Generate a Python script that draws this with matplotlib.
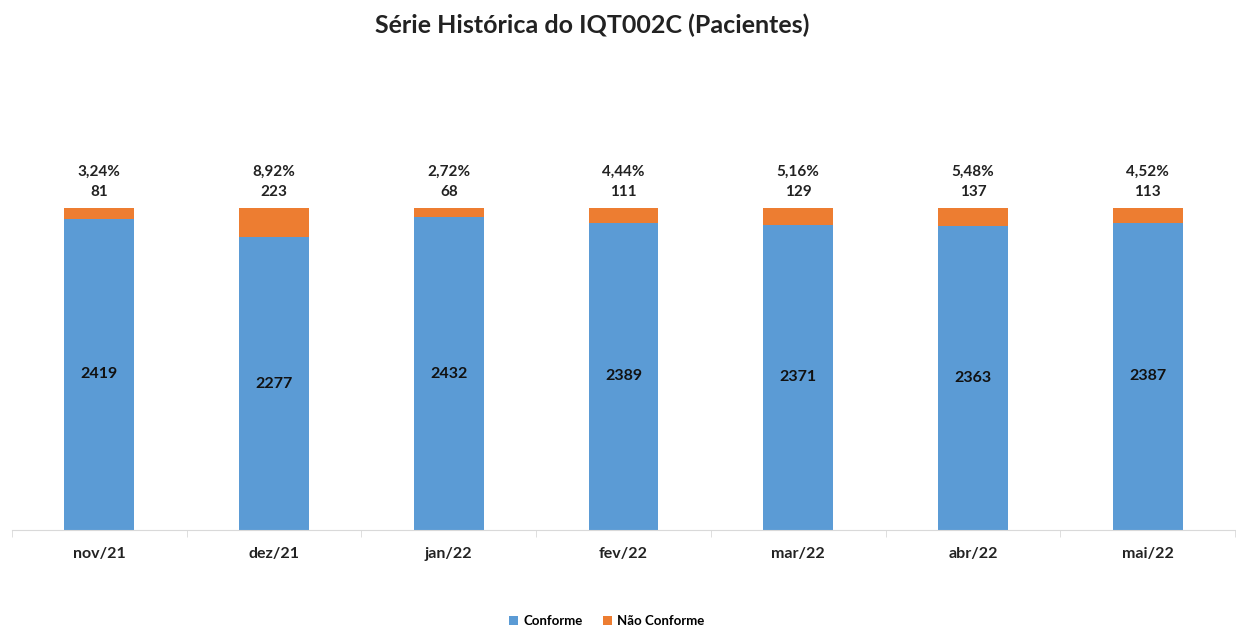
import matplotlib.pyplot as plt
import numpy as np

# data
months = ['nov/21', 'dez/21', 'jan/22', 'fev/22', 'mar/22', 'abr/22', 'mai/22']
conforme = [2419, 2277, 2432, 2389, 2371, 2363, 2387]
nao_conforme = [81, 223, 68, 111, 129, 137, 113]
pct_labels = ['3,24%', '8,92%', '2,72%', '4,44%', '5,16%', '5,48%', '4,52%']

blue = '#5B9BD5'
orange = '#ED7D31'

plt.rcParams['font.family'] = ['Lato', 'DejaVu Sans']

fig = plt.figure(figsize=(12.36, 6.31), dpi=100)
ax = fig.add_axes([12 / 1236, 1 - 530 / 631, 1223 / 1236, 386 / 631])

x = np.arange(len(months))
w = 0.4
ax.bar(x, conforme, width=w, color=blue, label='Conforme')
ax.bar(x, nao_conforme, width=w, bottom=conforme, color=orange, label='Não Conforme')

for i in range(len(months)):
    ax.text(x[i], conforme[i] / 2, str(conforme[i]), ha='center', va='center',
            fontsize=11.5, fontweight='bold', color='#111111')
    top = conforme[i] + nao_conforme[i]
    ax.text(x[i], top + 125, str(nao_conforme[i]), ha='center', va='center',
            fontsize=11, fontweight='bold', color='#222222')
    ax.text(x[i], top + 285, pct_labels[i], ha='center', va='center',
            fontsize=11, fontweight='bold', color='#222222')

ax.set_xlim(-0.5, len(months) - 0.5)
ax.set_ylim(0, 3000)

# axis styling
for s in ['top', 'right', 'left']:
    ax.spines[s].set_visible(False)
ax.spines['bottom'].set_color('#D9D9D9')
ax.set_yticks([])
ax.set_xticks(x)
ax.set_xticklabels(months, fontsize=11.5, fontweight='bold', color='#222222')
ax.tick_params(axis='x', length=0, pad=12)
ax.set_xticks(np.arange(-0.5, len(months), 1), minor=True)
ax.tick_params(axis='x', which='minor', length=5, color='#D9D9D9')

fig.text(0.479, 1 - 25 / 631, 'Série Histórica do IQT002C (Pacientes)', ha='center', va='center',
         fontsize=18, fontweight='bold', color='#222222')

fig.legend(loc='center', bbox_to_anchor=(0.491, 1 - 621 / 631), ncol=2, frameon=False,
           handlelength=0.7, handleheight=0.7, handletextpad=0.4,
           columnspacing=1.5, prop={'weight': 'bold', 'size': 9.5})

fig.savefig('out.png', dpi=100)
